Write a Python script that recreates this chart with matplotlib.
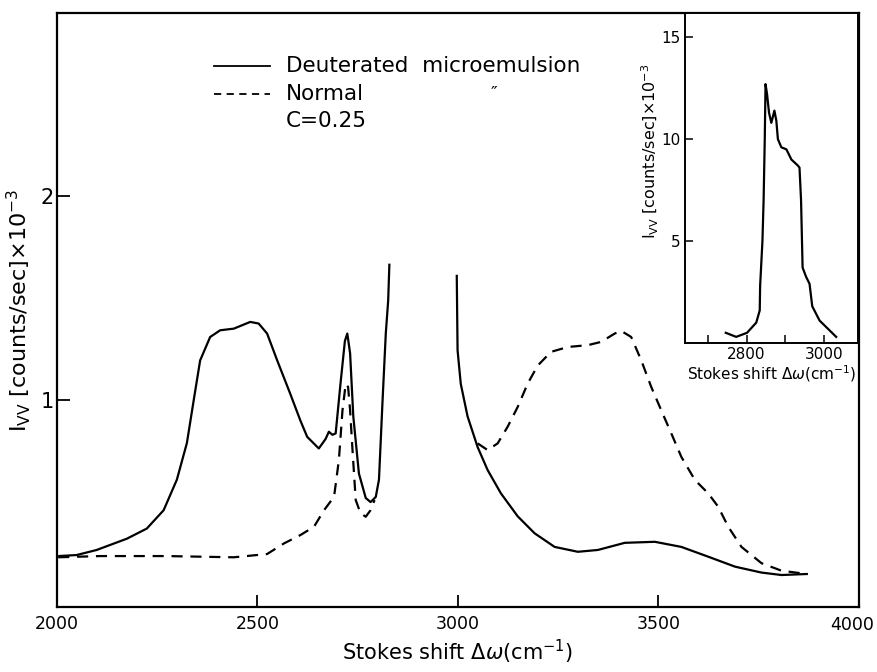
import matplotlib
matplotlib.use("Agg")
import matplotlib.pyplot as plt

# Deuterated microemulsion (solid), left branch
deut_left_x = [2003, 2049, 2099, 2174, 2224, 2266, 2299, 2324, 2341, 2357, 2382, 2407, 2441, 2482, 2503,
               2524, 2549, 2582, 2607, 2624, 2653, 2670, 2678, 2687, 2695, 2707, 2718, 2724, 2731, 2739,
               2753, 2770, 2782, 2795, 2803, 2812, 2820, 2826, 2829]
deut_left_y = [0.235, 0.24, 0.265, 0.32, 0.37, 0.46, 0.61, 0.79, 1.0, 1.195, 1.31, 1.343, 1.351, 1.384, 1.376,
               1.327, 1.196, 1.03, 0.90, 0.82, 0.763, 0.81, 0.845, 0.83, 0.837, 1.08, 1.29, 1.327, 1.23, 0.92,
               0.64, 0.52, 0.50, 0.525, 0.61, 1.0, 1.327, 1.49, 1.67]
# Deuterated microemulsion (solid), right branch
deut_right_x = [2997, 2999, 3007, 3024, 3049, 3074, 3107, 3149, 3191, 3241, 3299, 3349, 3416, 3491, 3557,
                3624, 3691, 3757, 3807, 3870]
deut_right_y = [1.61, 1.245, 1.08, 0.92, 0.77, 0.657, 0.543, 0.43, 0.347, 0.28, 0.256, 0.265, 0.30, 0.305, 0.28,
                0.232, 0.183, 0.154, 0.142, 0.147]
# Normal microemulsion (dashed), left branch
norm_left_x = [2003, 2107, 2274, 2441, 2524, 2566, 2607, 2641, 2666, 2691, 2703, 2712, 2720, 2726, 2731,
               2737, 2745, 2757, 2770, 2782, 2792]
norm_left_y = [0.229, 0.235, 0.235, 0.229, 0.245, 0.297, 0.338, 0.379, 0.46, 0.526, 0.706, 0.95, 1.08, 1.065, 0.95,
               0.755, 0.51, 0.445, 0.428, 0.46, 0.51]
# Normal microemulsion (dashed), right branch
norm_right_x = [3049, 3074, 3099, 3124, 3149, 3174, 3199, 3232, 3274, 3324, 3357, 3391, 3407, 3432, 3457,
                3482, 3507, 3532, 3557, 3591, 3624, 3649, 3674, 3707, 3757, 3807, 3870]
norm_right_y = [0.788, 0.755, 0.788, 0.87, 0.967, 1.082, 1.17, 1.237, 1.261, 1.27, 1.286, 1.327, 1.34, 1.31, 1.196,
                1.065, 0.95, 0.837, 0.722, 0.608, 0.543, 0.477, 0.379, 0.28, 0.2, 0.163, 0.147]
# Inset: C-H stretching region
inset_x = [2746, 2773, 2801, 2825, 2834, 2835, 2841, 2844, 2847, 2849, 2853, 2858, 2864, 2872, 2877, 2881,
           2890, 2903, 2916, 2933, 2937, 2941, 2945, 2954, 2963, 2970, 2989, 3032]
inset_y = [0.5, 0.3, 0.5, 1.0, 1.6, 2.8, 5.0, 7.0, 10.0, 12.7, 12.2, 11.3, 10.8, 11.4, 10.9, 10.0,
           9.6, 9.5, 9.0, 8.7, 8.6, 7.0, 3.7, 3.25, 2.9, 1.8, 1.1, 0.3]

main_xticks = [2000, 2500, 3000, 3500, 4000]
main_xticklabels = ["2000", "2500", "3000", "3500", ""]
last_xlabel = "4000"
main_yticks = [1, 2]
inset_xticks = [2700, 2800, 2900, 3000]
inset_xticklabels = ["", "2800", "", "3000"]
inset_yticks = [5, 10, 15]

plt.rcParams['font.family'] = ['DejaVu Sans']
fig = plt.figure(figsize=(8.78, 6.72), dpi=100)
ax = fig.add_axes([0.0649, 0.0967, 0.9134, 0.884])
lw = 1.6
ax.plot(deut_left_x, deut_left_y, color='black', lw=lw, solid_capstyle='butt', solid_joinstyle='round')
ax.plot(deut_right_x, deut_right_y, color='black', lw=lw, solid_joinstyle='round')
ax.plot(norm_left_x, norm_left_y, color='black', lw=lw, dashes=(5, 3.5))
ax.plot(norm_right_x, norm_right_y, color='black', lw=lw, dashes=(5, 3.5))
ax.set_xlim(2000, 4000)
ax.set_ylim(-0.015, 2.9)
ax.set_xticks(main_xticks)
ax.set_xticklabels(main_xticklabels, fontsize=12.5)
ax.annotate(last_xlabel, xy=(1, 0), xycoords='axes fraction', xytext=(-5, -6.5),
            textcoords='offset points', ha='center', va='top', fontsize=12.5)
ax.set_yticks(main_yticks)
ax.set_yticklabels([str(t) for t in main_yticks], fontsize=15)
ax.tick_params(axis='both', direction='in', length=9, width=1.3)
ax.tick_params(axis='y', pad=2)
ax.tick_params(axis='x', pad=6)
for s in ax.spines.values():
    s.set_linewidth(1.6)
ax.set_xlabel(r"Stokes shift $\Delta\omega$(cm$^{-1}$)", fontsize=15, labelpad=3)
ax.set_ylabel(r"I$_{\rm VV}$ [counts/sec]$\times$10$^{-3}$", fontsize=16, labelpad=6)

# Legend drawn as lines and text
ax.plot([2392, 2532], [2.64, 2.64], color='black', lw=1.3)
ax.plot([2392, 2532], [2.50, 2.50], color='black', lw=1.3, dashes=(4, 3))
ax.text(2570, 2.64, "Deuterated  microemulsion", fontsize=15.5, va='center', ha='left')
ax.text(2570, 2.50, "Normal", fontsize=15.5, va='center', ha='left')
ax.text(3090, 2.50, "\u2033", fontsize=13, va='center', ha='center')
ax.text(2570, 2.37, "C=0.25", fontsize=15.5, va='center', ha='left')

# Inset
ins = fig.add_axes([0.780, 0.4896, 0.197, 0.4914])
ins.plot(inset_x, inset_y, color='black', lw=1.6, solid_joinstyle='round')
ins.set_xlim(2640, 3088)
ins.set_ylim(0, 16.2)
ins.set_xticks(inset_xticks)
ins.set_xticklabels(inset_xticklabels, fontsize=11)
ins.set_yticks(inset_yticks)
ins.set_yticklabels([str(t) for t in inset_yticks], fontsize=11)
ins.tick_params(axis='both', direction='in', length=6, width=1.1, pad=3)
for s in ins.spines.values():
    s.set_linewidth(1.4)
ins.set_xlabel(r"Stokes shift $\Delta\omega$(cm$^{-1}$)", fontsize=11, labelpad=1)
ins.set_ylabel(r"I$_{\rm VV}$ [counts/sec]$\times$10$^{-3}$", fontsize=11.5, labelpad=2)
ins.yaxis.set_label_coords(-0.14, 0.58)

fig.savefig("out.png", dpi=100)
